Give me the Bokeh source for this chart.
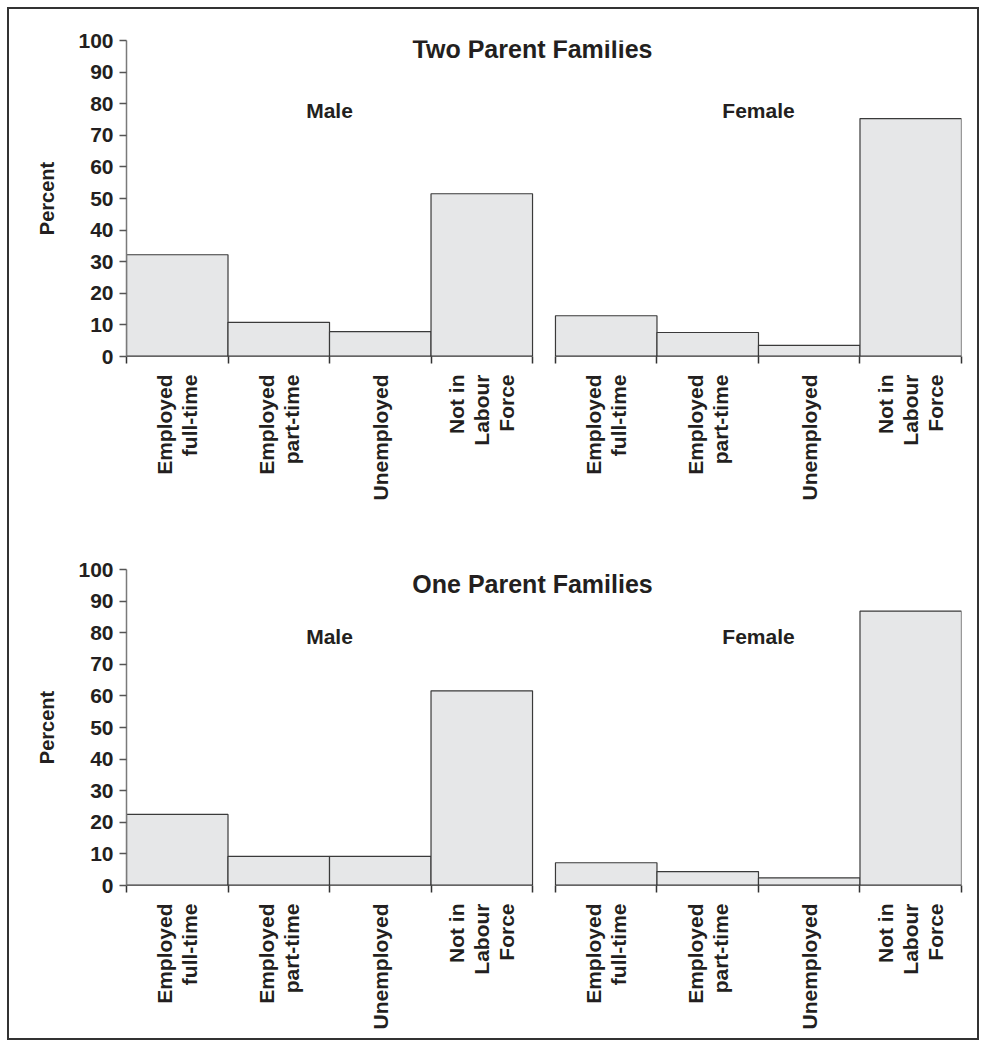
import math
from bokeh.plotting import figure
from bokeh.models import FixedTicker, Label, Range1d, ColumnDataSource
from bokeh.layouts import column
from bokeh.embed import file_html
from bokeh.resources import INLINE

# ---------------- data ----------------
categories = ["Employed\nfull-time", "Employed\npart-time", "Unemployed", "Not in\nLabour\nForce"]
groups = ["Male", "Female"]
panel_titles = ["Two Parent Families", "One Parent Families"]
y_ticks = [0, 10, 20, 30, 40, 50, 60, 70, 80, 90, 100]

two_parent_male = [32.2, 10.8, 7.9, 51.5]
two_parent_female = [12.9, 7.6, 3.5, 75.3]
one_parent_male = [22.5, 9.2, 9.2, 61.6]
one_parent_female = [7.2, 4.4, 2.4, 86.8]

# ---------------- style ----------------
FONT = "Liberation Sans"
TXT = "#231f20"
BAR_FILL = "#e6e7e8"
BAR_LINE = "#3a3a3a"
GAP = 0.226  # gap between the two groups, in bar widths


def make_panel(title, male, female, border_top, border_bottom, title_y, sub_y):
    n = len(categories)
    offsets = [0.0, n + GAP]
    x_end = offsets[1] + n

    p = figure(frame_width=835, frame_height=316,
               x_range=Range1d(0, x_end), y_range=Range1d(0, 100),
               output_backend="svg", toolbar_location=None,
               min_border_left=117, min_border_right=16,
               min_border_top=border_top, min_border_bottom=border_bottom,
               background_fill_color="white", border_fill_color="white")
    p.outline_line_color = None
    p.xgrid.visible = False
    p.ygrid.visible = False

    centers, labels, bounds = [], [], []
    for off, vals in zip(offsets, [male, female]):
        xs = [off + i + 0.5 for i in range(n)]
        src = ColumnDataSource(dict(x=xs, top=vals))
        p.vbar(x="x", top="top", bottom=0, width=1.0, source=src,
               fill_color=BAR_FILL, line_color=BAR_LINE, line_width=1.2)
        centers += xs
        labels += categories
        bounds += [off + i for i in range(n + 1)]

    # baselines of the two groups
    p.segment(x0=offsets, y0=[0, 0], x1=[o + n for o in offsets], y1=[0, 0],
              line_color="#333333", line_width=2)

    # x axis: ticks at category boundaries, labels at centres
    xa = p.xaxis[0]
    xa.ticker = FixedTicker(ticks=centers, minor_ticks=bounds)
    xa.major_label_overrides = {c: l for c, l in zip(centers, labels)}
    xa.axis_line_color = None
    xa.major_tick_line_color = None
    xa.major_tick_out = 0
    xa.major_tick_in = 0
    xa.minor_tick_line_color = "#333333"
    xa.minor_tick_line_width = 1.5
    xa.minor_tick_out = 7
    xa.minor_tick_in = 0
    xa.major_label_orientation = math.pi / 2
    xa.major_label_standoff = 11
    xa.major_label_text_font = FONT
    xa.major_label_text_font_style = "bold"
    xa.major_label_text_font_size = "21px"
    xa.major_label_text_color = TXT
    xa.major_label_text_line_height = 1.08

    # y axis
    ya = p.yaxis[0]
    ya.ticker = FixedTicker(ticks=y_ticks, minor_ticks=[])
    ya.axis_line_color = "#7a7a7a"
    ya.axis_line_width = 1.5
    ya.major_tick_line_color = "#555555"
    ya.major_tick_line_width = 1.5
    ya.major_tick_out = 7
    ya.major_tick_in = 0
    ya.major_label_standoff = 6
    ya.major_label_text_font = FONT
    ya.major_label_text_font_style = "bold"
    ya.major_label_text_font_size = "21px"
    ya.major_label_text_color = TXT
    ya.axis_label = "Percent"
    ya.axis_label_text_font = FONT
    ya.axis_label_text_font_style = "bold"
    ya.axis_label_text_font_size = "20px"
    ya.axis_label_text_color = TXT
    ya.axis_label_standoff = 17

    # titles
    p.add_layout(Label(x=4.0, y=title_y, text=title, text_align="center",
                       text_baseline="alphabetic", text_font=FONT,
                       text_font_style="bold", text_font_size="25px",
                       text_color=TXT))
    for off, g in zip(offsets, groups):
        p.add_layout(Label(x=off + n / 2, y=sub_y, text=g, text_align="center",
                           text_baseline="alphabetic", text_font=FONT,
                           text_font_style="bold", text_font_size="21px",
                           text_color=TXT))
    return p


p1 = make_panel(panel_titles[0], two_parent_male, two_parent_female,
                31, 179, 97.4, 77.8)
p2 = make_panel(panel_titles[1], one_parent_male, one_parent_female,
                34, 153, 95.5, 78.8)

layout = column(p1, p2, spacing=0,
                styles={"border": "2px solid #333333", "background-color": "white",
                        "margin-left": "7px", "margin-top": "7px"})

open("out.html", "w").write(file_html(layout, INLINE))
